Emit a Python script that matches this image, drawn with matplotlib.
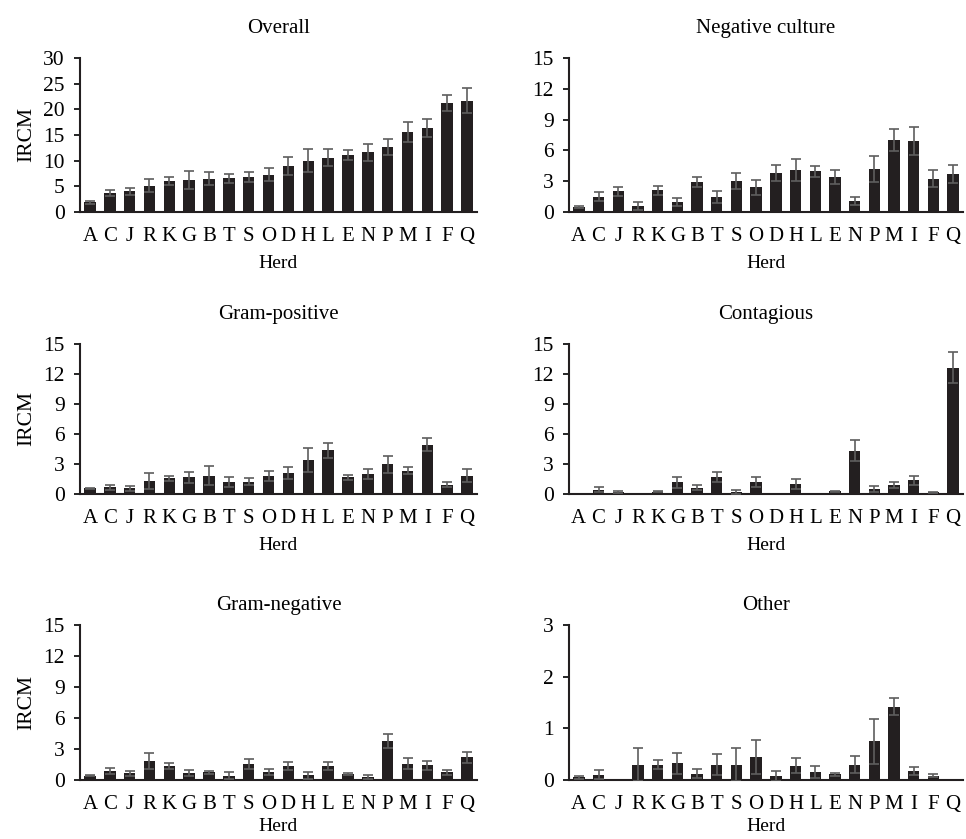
import matplotlib
matplotlib.use("Agg")
import matplotlib.pyplot as plt
import numpy as np

herds = ["A", "C", "J", "R", "K", "G", "B", "T", "S", "O",
         "D", "H", "L", "E", "N", "P", "M", "I", "F", "Q"]

overall = [1.9, 3.7, 4.0, 5.1, 6.0, 6.2, 6.5, 6.6, 6.8, 7.3,
           9.0, 10.0, 10.6, 11.1, 11.6, 12.7, 15.6, 16.4, 21.2, 21.7]
overall_err = [0.3, 0.6, 0.7, 1.3, 0.8, 1.8, 1.2, 0.9, 0.9, 1.2,
               1.8, 2.2, 1.6, 0.9, 1.6, 1.6, 2.0, 1.8, 1.5, 2.4]

negative = [0.45, 1.5, 2.0, 0.6, 2.1, 1.0, 2.9, 1.45, 3.0, 2.4,
            3.8, 4.1, 3.95, 3.4, 1.08, 4.2, 7.0, 6.9, 3.26, 3.7]
negative_err = [0.1, 0.45, 0.45, 0.4, 0.45, 0.4, 0.5, 0.55, 0.8, 0.75,
                0.8, 1.1, 0.55, 0.65, 0.4, 1.3, 1.1, 1.35, 0.8, 0.9]

gram_pos = [0.6, 0.7, 0.57, 1.35, 1.6, 1.7, 1.85, 1.25, 1.25, 1.8,
            2.1, 3.4, 4.4, 1.7, 2.0, 2.97, 2.35, 4.95, 0.95, 1.85]
gram_pos_err = [0.05, 0.25, 0.25, 0.8, 0.25, 0.55, 0.95, 0.5, 0.35, 0.5,
                0.6, 1.2, 0.75, 0.25, 0.5, 0.85, 0.35, 0.65, 0.25, 0.65]

contagious = [0.0, 0.41, 0.24, 0.0, 0.24, 1.16, 0.65, 1.74, 0.2, 1.2,
              0.0, 1.02, 0.0, 0.27, 4.33, 0.5, 0.92, 1.36, 0.2, 12.65]
contagious_err = [0.0, 0.25, 0.1, 0.0, 0.08, 0.55, 0.27, 0.5, 0.2, 0.5,
                  0.0, 0.5, 0.0, 0.05, 1.05, 0.3, 0.3, 0.48, 0.05, 1.55]

gram_neg = [0.4, 0.84, 0.64, 1.8, 1.32, 0.65, 0.74, 0.42, 1.55, 0.8,
            1.32, 0.45, 1.35, 0.61, 0.26, 3.8, 1.58, 1.42, 0.74, 2.19]
gram_neg_err = [0.05, 0.3, 0.22, 0.77, 0.3, 0.28, 0.13, 0.35, 0.5, 0.3,
                0.4, 0.32, 0.42, 0.1, 0.2, 0.7, 0.55, 0.45, 0.26, 0.55]

other = [0.05, 0.1, 0.0, 0.3, 0.3, 0.32, 0.12, 0.3, 0.3, 0.45,
         0.08, 0.28, 0.15, 0.11, 0.3, 0.75, 1.42, 0.18, 0.08, 0.0]
other_err = [0.03, 0.09, 0.0, 0.32, 0.09, 0.21, 0.09, 0.2, 0.32, 0.33,
             0.1, 0.14, 0.12, 0.03, 0.17, 0.44, 0.16, 0.08, 0.03, 0.0]

titles = ["Overall", "Negative culture", "Gram-positive", "Contagious",
          "Gram-negative", "Other"]
series = [overall, negative, gram_pos, contagious, gram_neg, other]
errors = [overall_err, negative_err, gram_pos_err, contagious_err,
          gram_neg_err, other_err]
yticks = [[0, 5, 10, 15, 20, 25, 30], [0, 3, 6, 9, 12, 15], [0, 3, 6, 9, 12, 15],
          [0, 3, 6, 9, 12, 15], [0, 3, 6, 9, 12, 15], [0, 1, 2, 3]]

plt.rcParams['font.family'] = ['Liberation Serif', 'DejaVu Serif']

fig = plt.figure(figsize=(9.66, 8.39), dpi=100)
W, H = 966, 839
lefts = [80, 569]
widths = [397, 394]
rows = [(58, 212), (344, 494), (625, 780)]
title_pads = [18, 18, 11]
xlabel_pads = [6, 6, 3]

x = np.arange(len(herds))
for i in range(6):
    r, c = divmod(i, 2)
    top, bot = rows[r]
    ax = fig.add_axes([lefts[c] / W, 1 - bot / H, widths[c] / W, (bot - top) / H])
    vals = np.array(series[i])
    errs = np.array(errors[i])
    ax.bar(x, vals, width=0.58, color="#231f20", zorder=2)
    keep = (vals > 0) | (errs > 0)
    ax.errorbar(x[keep], vals[keep], yerr=errs[keep], fmt="none", ecolor="#5e5e5e",
                elinewidth=1.2, capsize=3.8, capthick=1.2, zorder=3)
    ax.set_xlim(-0.5, len(herds) - 0.5)
    ax.set_ylim(0, yticks[i][-1])
    ax.set_yticks(yticks[i])
    ax.set_xticks(x)
    ax.set_xticklabels(herds)
    ax.tick_params(axis="x", length=0, pad=11, labelsize=15)
    ax.tick_params(axis="y", length=4, width=1.2, direction="out", pad=7, labelsize=15.5)
    for s in ["top", "right"]:
        ax.spines[s].set_visible(False)
    for s in ["left", "bottom"]:
        ax.spines[s].set_linewidth(1.5)
        ax.spines[s].set_color("#231f20")
    ax.set_title(titles[i], fontsize=15, pad=title_pads[r])
    ax.set_xlabel("Herd", fontsize=14, labelpad=xlabel_pads[r])
    if c == 0:
        ax.set_ylabel("IRCM", fontsize=15.5, labelpad=5)

fig.savefig("out.png", dpi=100)
